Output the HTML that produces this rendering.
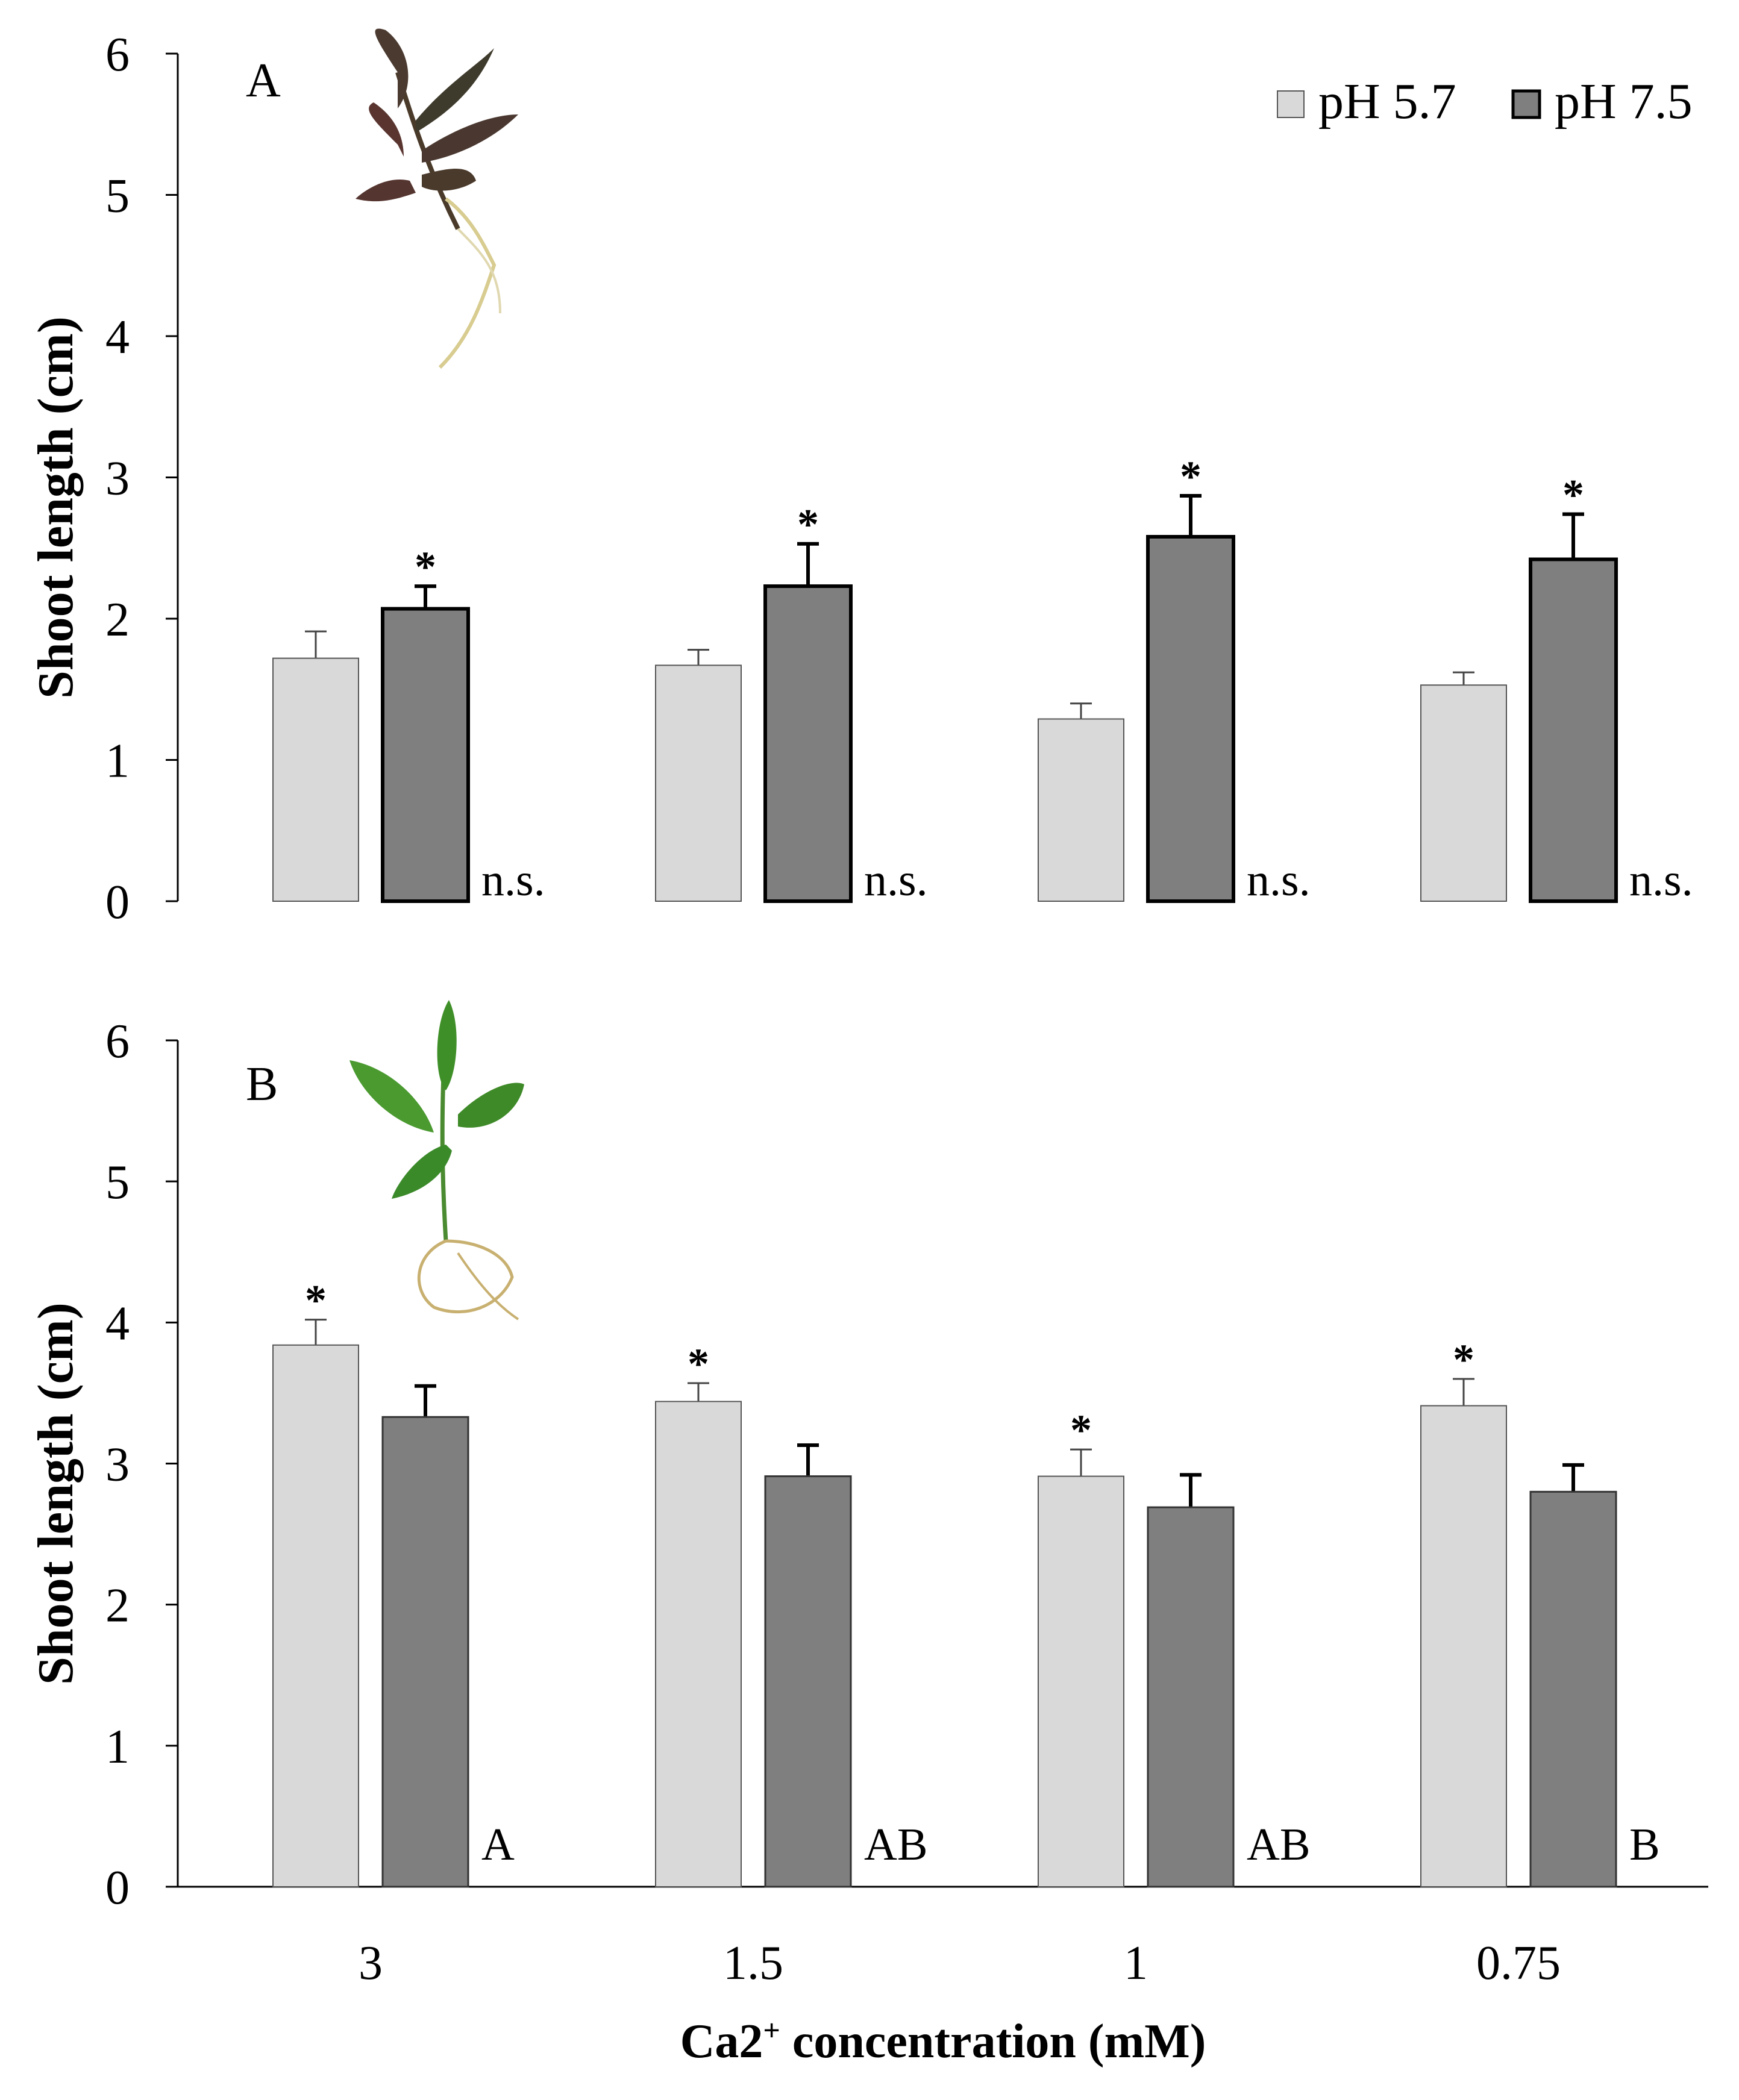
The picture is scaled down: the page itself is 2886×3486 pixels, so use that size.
<!DOCTYPE html>
<html><head><meta charset="utf-8"><style>
html,body{margin:0;padding:0;background:#fff;}
svg{display:block;font-family:"Liberation Serif",serif;}
</style></head><body>
<svg id="chart" width="2886" height="3486" viewBox="0 0 2886 3486" xmlns="http://www.w3.org/2000/svg">
<g id="plantA">
<path d="M760 380 C720 300 690 220 660 120" stroke="#4a3a2a" stroke-width="8" fill="none"/>
<path d="M660 120 C620 60 610 40 640 50 C680 80 690 140 660 180Z" fill="#4b3a30"/>
<path d="M690 200 C740 140 790 110 820 80 C790 150 740 190 690 220Z" fill="#3e3a2c"/>
<path d="M700 250 C760 210 820 190 860 190 C820 230 760 260 700 270Z" fill="#4a3830"/>
<path d="M660 240 C620 200 600 180 620 170 C650 190 670 220 670 260Z" fill="#5a3530"/>
<path d="M680 300 C640 290 600 320 590 330 C630 340 660 330 690 320Z" fill="#553530"/>
<path d="M700 290 C740 280 780 270 790 300 C760 320 720 320 700 310Z" fill="#4a3a2c"/>
<path d="M740 330 C780 360 800 400 820 440 C800 500 780 560 730 610" stroke="#d8cc90" stroke-width="6" fill="none"/>
<path d="M760 380 C800 420 830 450 830 520" stroke="#e0d8b0" stroke-width="4" fill="none"/>
</g>
<g id="plantB">
<path d="M740 1680 C735 1800 730 1900 740 2060" stroke="#4a8a30" stroke-width="7" fill="none"/>
<path d="M745 1660 C720 1700 720 1790 740 1810 C760 1780 765 1700 745 1660Z" fill="#3f8f28"/>
<path d="M580 1760 C640 1770 700 1820 720 1880 C660 1870 600 1820 580 1760Z" fill="#4a9a30"/>
<path d="M760 1850 C800 1810 850 1790 870 1800 C860 1850 810 1880 760 1870Z" fill="#3e8a28"/>
<path d="M740 1900 C700 1910 660 1960 650 1990 C700 1980 740 1950 750 1910Z" fill="#3b8a2a"/>
<path d="M740 2060 C690 2080 680 2140 720 2170 C770 2190 830 2170 850 2120 C840 2080 790 2060 740 2060Z" stroke="#c8b070" stroke-width="5" fill="none"/>
<path d="M760 2080 C800 2140 830 2170 860 2190" stroke="#c8b070" stroke-width="4" fill="none"/>
</g>
</svg>
<script>
const categories=["3","1.5","1","0.75"];
const aLight=[1.72,1.67,1.29,1.53];
const aLightErr=[0.19,0.11,0.11,0.09];
const aDark=[2.07,2.23,2.58,2.42];
const aDarkErr=[0.16,0.30,0.29,0.32];
const bLight=[3.84,3.44,2.91,3.41];
const bLightErr=[0.18,0.13,0.19,0.19];
const bDark=[3.33,2.91,2.69,2.80];
const bDarkErr=[0.22,0.22,0.23,0.19];
const aNotes=["n.s.","n.s.","n.s.","n.s."];
const bNotes=["A","AB","AB","B"];
const yTicks=[0,1,2,3,4,5,6];
const aStarOn=["dark","dark","dark","dark"];
const bStarOn=["light","light","light","light"];

const svg=document.getElementById('chart');
const NS="http://www.w3.org/2000/svg";
function mk(tag,attrs,text){const e=document.createElementNS(NS,tag);for(const k in attrs)e.setAttribute(k,attrs[k]);if(text!==undefined)e.textContent=text;svg.appendChild(e);return e;}
const X0=295,X1=2835,band=(X1-X0)/4,BW=142;
function xLight(i){return X0+i*band+158;}
function xDark(i){return X0+i*band+340;}

function panel(key,y0,light,lightErr,dark,darkErr,notes,starOn,thickDark,label,labelY){
  const unit=(y0-(key==='a'?89:1727))/6;
  const y=v=>y0-v*unit;
  let e;
  e=mk('line',{x1:X0,y1:y(6),x2:X0,y2:y0,stroke:'#000','stroke-width':3});
  
  e=mk('line',{x1:275,y1:y0,x2:key==='a'?X0:X1,y2:y0,stroke:'#000','stroke-width':3});
  
  yTicks.forEach(t=>{
    e=mk('line',{x1:275,y1:y(t),x2:X0,y2:y(t),stroke:'#000','stroke-width':3});
    
    e=mk('text',{x:215,y:y(t)+28,'font-size':80,'text-anchor':'end',fill:'#000'},String(t));
    
  });
  e=mk('text',{x:0,y:0,'font-size':84,'font-weight':'bold','text-anchor':'middle',transform:`translate(120,${(y(6)+y0)/2+50}) rotate(-90)`},'Shoot length (cm)');
  
  e=mk('text',{x:408,y:labelY,'font-size':80},label);
  
  categories.forEach((c,i)=>{
    const lx=xLight(i),dx=xDark(i);
    e=mk('line',{x1:lx+BW/2,y1:y(light[i]),x2:lx+BW/2,y2:y(light[i]+lightErr[i]),stroke:'#444','stroke-width':3});
    
    e=mk('line',{x1:lx+BW/2-18,y1:y(light[i]+lightErr[i]),x2:lx+BW/2+18,y2:y(light[i]+lightErr[i]),stroke:'#444','stroke-width':3});
    
    const dw=thickDark?6:3;
    e=mk('line',{x1:dx+BW/2,y1:y(dark[i]),x2:dx+BW/2,y2:y(dark[i]+darkErr[i]),stroke:'#000','stroke-width':6});
    
    e=mk('line',{x1:dx+BW/2-18,y1:y(dark[i]+darkErr[i]),x2:dx+BW/2+18,y2:y(dark[i]+darkErr[i]),stroke:'#000','stroke-width':6});
    
    e=mk('rect',{x:lx,y:y(light[i]),width:BW,height:y0-y(light[i]),fill:'#d9d9d9',stroke:'#555','stroke-width':2});
    
    e=mk('rect',{x:dx,y:y(dark[i]),width:BW,height:y0-y(dark[i]),fill:'#7f7f7f',stroke:thickDark?'#000':'#333','stroke-width':dw});
    
    const sx=starOn[i]==='dark'?dx+BW/2:lx+BW/2;
    const sv=starOn[i]==='dark'?dark[i]+darkErr[i]:light[i]+lightErr[i];
    e=mk('text',{x:sx,y:y(sv)-8,'font-size':72,'font-weight':'bold','text-anchor':'middle'},'*');
    
    e=mk('text',{x:dx+BW+22,y:y0-(key==='a'?10:45),'font-size':76},notes[i]);
    
  });
}
panel('a',1496,aLight,aLightErr,aDark,aDarkErr,aNotes,aStarOn,true,'A',160);
panel('b',3132,bLight,bLightErr,bDark,bDarkErr,bNotes,bStarOn,false,'B',1826);
categories.forEach((c,i)=>{
  const e=mk('text',{x:X0+i*band+(158+340+BW)/2,y:3285,'font-size':80,'text-anchor':'middle'},c);
  
  
});
let t=mk('text',{x:1565,y:3415,'font-size':80,'font-weight':'bold','text-anchor':'middle'});
t.innerHTML='Ca2<tspan dy="-28" font-size="50">+</tspan><tspan dy="28"> concentration (mM)</tspan>';


let l=mk('rect',{x:2120,y:151,width:44,height:44,fill:'#d9d9d9',stroke:'#555','stroke-width':2});

l=mk('text',{x:2188,y:196,'font-size':84},'pH 5.7');

l=mk('rect',{x:2511,y:151,width:44,height:44,fill:'#7f7f7f',stroke:'#000','stroke-width':5});

l=mk('text',{x:2580,y:196,'font-size':84},'pH 7.5');

</script>
</body></html>
